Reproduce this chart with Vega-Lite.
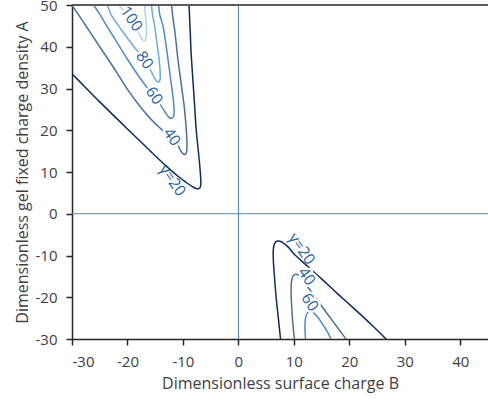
{
  "$schema": "https://vega.github.io/schema/vega-lite/v6.json",
  "width": 416,
  "height": 334,
  "autosize": {"type": "none"},
  "padding": {"left": 72, "top": 5, "right": 0, "bottom": 61},
  "background": "white",
  "config": {"view": {"stroke": null}, "font": "Open Sans"},
  "datasets": {
    "curves": [
      {"c":"L20","g":20,"i":0,"x":-30.5,"y":34.1},
      {"c":"L20","g":20,"i":1,"x":-30,"y":33.5},
      {"c":"L20","g":20,"i":2,"x":-25,"y":26.8},
      {"c":"L20","g":20,"i":3,"x":-20,"y":20.3},
      {"c":"L20","g":20,"i":4,"x":-15,"y":13.9},
      {"c":"L20","g":20,"i":5,"x":-13,"y":11.4},
      {"c":"L20","g":20,"i":6,"x":-11,"y":9.1},
      {"c":"L20","g":20,"i":7,"x":-9.5,"y":7.6},
      {"c":"L20","g":20,"i":8,"x":-8.3,"y":6.5},
      {"c":"L20","g":20,"i":9,"x":-7.5,"y":6.0},
      {"c":"L20","g":20,"i":10,"x":-7.0,"y":6.1},
      {"c":"L20","g":20,"i":11,"x":-6.8,"y":6.8},
      {"c":"L20","g":20,"i":12,"x":-6.8,"y":8.5},
      {"c":"L20","g":20,"i":13,"x":-7.0,"y":12},
      {"c":"L20","g":20,"i":14,"x":-7.3,"y":16},
      {"c":"L20","g":20,"i":15,"x":-7.6,"y":20},
      {"c":"L20","g":20,"i":16,"x":-7.9,"y":26},
      {"c":"L20","g":20,"i":17,"x":-8.2,"y":32},
      {"c":"L20","g":20,"i":18,"x":-8.5,"y":38},
      {"c":"L20","g":20,"i":19,"x":-8.7,"y":44},
      {"c":"L20","g":20,"i":20,"x":-8.9,"y":50},
      {"c":"L20","g":20,"i":21,"x":-8.95,"y":51},

      {"c":"L40","g":40,"i":0,"x":-30.6,"y":51},
      {"c":"L40","g":40,"i":1,"x":-30,"y":49.9},
      {"c":"L40","g":40,"i":2,"x":-28.9,"y":47.8},
      {"c":"L40","g":40,"i":3,"x":-27,"y":44},
      {"c":"L40","g":40,"i":4,"x":-25,"y":40},
      {"c":"L40","g":40,"i":5,"x":-22,"y":34},
      {"c":"L40","g":40,"i":6,"x":-19.9,"y":29.6},
      {"c":"L40","g":40,"i":7,"x":-17.9,"y":26},
      {"c":"L40","g":40,"i":8,"x":-15.5,"y":22.3},
      {"c":"L40","g":40,"i":9,"x":-13.5,"y":19.8},
      {"c":"L40","g":40,"i":10,"x":-12,"y":18.2},
      {"c":"L40","g":40,"i":11,"x":-11,"y":16.6},
      {"c":"L40","g":40,"i":12,"x":-10.4,"y":15.1},
      {"c":"L40","g":40,"i":13,"x":-9.9,"y":14.3},
      {"c":"L40","g":40,"i":14,"x":-9.5,"y":14.3},
      {"c":"L40","g":40,"i":15,"x":-9.3,"y":15.3},
      {"c":"L40","g":40,"i":16,"x":-9.3,"y":18},
      {"c":"L40","g":40,"i":17,"x":-9.5,"y":22},
      {"c":"L40","g":40,"i":18,"x":-9.8,"y":26},
      {"c":"L40","g":40,"i":19,"x":-10.3,"y":31},
      {"c":"L40","g":40,"i":20,"x":-10.9,"y":37},
      {"c":"L40","g":40,"i":21,"x":-11.4,"y":43},
      {"c":"L40","g":40,"i":22,"x":-11.9,"y":48},
      {"c":"L40","g":40,"i":23,"x":-12.1,"y":51},

      {"c":"L60","g":60,"i":0,"x":-26.6,"y":51},
      {"c":"L60","g":60,"i":1,"x":-26.1,"y":50},
      {"c":"L60","g":60,"i":2,"x":-25,"y":47.8},
      {"c":"L60","g":60,"i":3,"x":-23.5,"y":44.5},
      {"c":"L60","g":60,"i":4,"x":-22,"y":41.3},
      {"c":"L60","g":60,"i":5,"x":-20,"y":37},
      {"c":"L60","g":60,"i":6,"x":-18,"y":33},
      {"c":"L60","g":60,"i":7,"x":-16.5,"y":30.3},
      {"c":"L60","g":60,"i":8,"x":-15.2,"y":28.3},
      {"c":"L60","g":60,"i":9,"x":-14.1,"y":26.2},
      {"c":"L60","g":60,"i":10,"x":-13.2,"y":24.3},
      {"c":"L60","g":60,"i":11,"x":-12.6,"y":23.2},
      {"c":"L60","g":60,"i":12,"x":-12.1,"y":22.8},
      {"c":"L60","g":60,"i":13,"x":-11.7,"y":23.3},
      {"c":"L60","g":60,"i":14,"x":-11.6,"y":25},
      {"c":"L60","g":60,"i":15,"x":-11.8,"y":28},
      {"c":"L60","g":60,"i":16,"x":-12.3,"y":33},
      {"c":"L60","g":60,"i":17,"x":-12.9,"y":39},
      {"c":"L60","g":60,"i":18,"x":-13.6,"y":45},
      {"c":"L60","g":60,"i":19,"x":-14.2,"y":47.8},
      {"c":"L60","g":60,"i":20,"x":-14.4,"y":51},

      {"c":"L80","g":80,"i":0,"x":-24.1,"y":51},
      {"c":"L80","g":80,"i":1,"x":-23.6,"y":50},
      {"c":"L80","g":80,"i":2,"x":-23,"y":47.8},
      {"c":"L80","g":80,"i":3,"x":-21,"y":43.9},
      {"c":"L80","g":80,"i":4,"x":-19,"y":40.3},
      {"c":"L80","g":80,"i":5,"x":-16.9,"y":36.8},
      {"c":"L80","g":80,"i":6,"x":-15.8,"y":34.3},
      {"c":"L80","g":80,"i":7,"x":-15.1,"y":32.4},
      {"c":"L80","g":80,"i":8,"x":-14.6,"y":31.6},
      {"c":"L80","g":80,"i":9,"x":-14.2,"y":31.8},
      {"c":"L80","g":80,"i":10,"x":-14.1,"y":33.5},
      {"c":"L80","g":80,"i":11,"x":-14.3,"y":37},
      {"c":"L80","g":80,"i":12,"x":-14.7,"y":41},
      {"c":"L80","g":80,"i":13,"x":-15.1,"y":45},
      {"c":"L80","g":80,"i":14,"x":-15.5,"y":47.8},
      {"c":"L80","g":80,"i":15,"x":-15.7,"y":51},

      {"c":"L100","g":100,"i":0,"x":-21.8,"y":51},
      {"c":"L100","g":100,"i":1,"x":-21.3,"y":49.6},
      {"c":"L100","g":100,"i":2,"x":-20.4,"y":48.2},
      {"c":"L100","g":100,"i":3,"x":-19.3,"y":46.6},
      {"c":"L100","g":100,"i":4,"x":-18.4,"y":44.6},
      {"c":"L100","g":100,"i":5,"x":-17.7,"y":42.6},
      {"c":"L100","g":100,"i":6,"x":-17.2,"y":41.6},
      {"c":"L100","g":100,"i":7,"x":-16.8,"y":41.6},
      {"c":"L100","g":100,"i":8,"x":-16.6,"y":42.8},
      {"c":"L100","g":100,"i":9,"x":-16.6,"y":45.5},
      {"c":"L100","g":100,"i":10,"x":-16.8,"y":48},
      {"c":"L100","g":100,"i":11,"x":-16.9,"y":51},

      {"c":"R20","g":20,"i":0,"x":7.7,"y":-31},
      {"c":"R20","g":20,"i":1,"x":7.6,"y":-30},
      {"c":"R20","g":20,"i":2,"x":7.2,"y":-25},
      {"c":"R20","g":20,"i":3,"x":6.8,"y":-20},
      {"c":"R20","g":20,"i":4,"x":6.5,"y":-15},
      {"c":"R20","g":20,"i":5,"x":6.3,"y":-11},
      {"c":"R20","g":20,"i":6,"x":6.3,"y":-8.5},
      {"c":"R20","g":20,"i":7,"x":6.5,"y":-7.2},
      {"c":"R20","g":20,"i":8,"x":6.9,"y":-6.6},
      {"c":"R20","g":20,"i":9,"x":7.5,"y":-6.6},
      {"c":"R20","g":20,"i":10,"x":8.3,"y":-7.2},
      {"c":"R20","g":20,"i":11,"x":9,"y":-8.0},
      {"c":"R20","g":20,"i":12,"x":10,"y":-9.6},
      {"c":"R20","g":20,"i":13,"x":12.5,"y":-12.6},
      {"c":"R20","g":20,"i":14,"x":15,"y":-15.6},
      {"c":"R20","g":20,"i":15,"x":18,"y":-19.3},
      {"c":"R20","g":20,"i":16,"x":21,"y":-22.9},
      {"c":"R20","g":20,"i":17,"x":24,"y":-26.6},
      {"c":"R20","g":20,"i":18,"x":26.6,"y":-30},
      {"c":"R20","g":20,"i":19,"x":27.3,"y":-31},

      {"c":"R40","g":40,"i":0,"x":10.2,"y":-31},
      {"c":"R40","g":40,"i":1,"x":10.1,"y":-30},
      {"c":"R40","g":40,"i":2,"x":9.8,"y":-26},
      {"c":"R40","g":40,"i":3,"x":9.6,"y":-22},
      {"c":"R40","g":40,"i":4,"x":9.5,"y":-18.5},
      {"c":"R40","g":40,"i":5,"x":9.6,"y":-16},
      {"c":"R40","g":40,"i":6,"x":9.9,"y":-14.8},
      {"c":"R40","g":40,"i":7,"x":10.4,"y":-14.5},
      {"c":"R40","g":40,"i":8,"x":11.1,"y":-15.0},
      {"c":"R40","g":40,"i":9,"x":12,"y":-16.6},
      {"c":"R40","g":40,"i":10,"x":13.5,"y":-19.3},
      {"c":"R40","g":40,"i":11,"x":15,"y":-22.1},
      {"c":"R40","g":40,"i":12,"x":16.5,"y":-24.8},
      {"c":"R40","g":40,"i":13,"x":18,"y":-27.5},
      {"c":"R40","g":40,"i":14,"x":19.4,"y":-30},
      {"c":"R40","g":40,"i":15,"x":19.9,"y":-31},

      {"c":"R60","g":60,"i":0,"x":12.1,"y":-31},
      {"c":"R60","g":60,"i":1,"x":12.1,"y":-30},
      {"c":"R60","g":60,"i":2,"x":12.0,"y":-27.5},
      {"c":"R60","g":60,"i":3,"x":12.1,"y":-25},
      {"c":"R60","g":60,"i":4,"x":12.4,"y":-23.8},
      {"c":"R60","g":60,"i":5,"x":12.9,"y":-23.4},
      {"c":"R60","g":60,"i":6,"x":13.5,"y":-23.7},
      {"c":"R60","g":60,"i":7,"x":14.3,"y":-24.8},
      {"c":"R60","g":60,"i":8,"x":15.2,"y":-26.5},
      {"c":"R60","g":60,"i":9,"x":16.1,"y":-28.4},
      {"c":"R60","g":60,"i":10,"x":16.7,"y":-30},
      {"c":"R60","g":60,"i":11,"x":17.0,"y":-31}
    ],
    "labels": [
      {"t":"100","x":-19.3,"y":46.7},
      {"t":"80","x":-16.9,"y":36.8},
      {"t":"60","x":-15.2,"y":28.3},
      {"t":"40","x":-12.0,"y":18.4},
      {"t":"γ=20","x":-11.9,"y":8.0},
      {"t":"γ=20","x":11.4,"y":-8.4},
      {"t":"40","x":12.3,"y":-15.0},
      {"t":"60","x":12.9,"y":-21.2}
    ]
  },
  "layer": [
    {
      "data": {"values": [{}]},
      "mark": {"type": "rule", "color": "#5b87ad", "strokeWidth": 1},
      "encoding": {"y": {"datum": 0, "type": "quantitative"}}
    },
    {
      "data": {"values": [{}]},
      "mark": {"type": "rule", "color": "#3b80bd", "strokeWidth": 1},
      "encoding": {"x": {"datum": 0, "type": "quantitative"}}
    },
    {
      "data": {"name": "curves"},
      "mark": {"type": "line", "strokeWidth": 1.5, "clip": true, "interpolate": "catmull-rom"},
      "encoding": {
        "x": {
          "field": "x", "type": "quantitative",
          "scale": {"domain": [-30, 45], "nice": false, "zero": false},
          "axis": {
            "title": "Dimensionless surface charge B",
            "values": [-30,-25,-20,-15,-10,-5,0,5,10,15,20,25,30,35,40],
            "labelExpr": "datum.value % 10 === 0 ? '' + datum.value : ''",
            "tickSize": {"condition": {"test": "datum.value % 10 === 0", "value": 6}, "value": 3},
            "grid": false,
            "domainColor": "#262626", "domainWidth": 1.5,
            "tickColor": "#262626", "tickWidth": 1.5,
            "labelFont": "Open Sans", "labelFontSize": 15, "labelColor": "#404040", "labelPadding": 9,
            "titleFont": "Open Sans", "titleFontSize": 16, "titleFontWeight": "normal", "titleColor": "#404040", "titlePadding": 6
          }
        },
        "y": {
          "field": "y", "type": "quantitative",
          "scale": {"domain": [-30, 50], "nice": false, "zero": false},
          "axis": {
            "title": "Dimensionless gel fixed charge density A",
            "values": [-30,-25,-20,-15,-10,-5,0,5,10,15,20,25,30,35,40,45,50],
            "labelExpr": "datum.value % 10 === 0 ? '' + datum.value : ''",
            "tickSize": {"condition": {"test": "datum.value % 10 === 0", "value": 6}, "value": 3},
            "grid": false,
            "domainColor": "#262626", "domainWidth": 1.5,
            "tickColor": "#262626", "tickWidth": 1.5,
            "labelFont": "Open Sans", "labelFontSize": 15, "labelColor": "#404040", "labelPadding": 9,
            "titleFont": "Open Sans", "titleFontSize": 16, "titleFontWeight": "normal", "titleColor": "#404040", "titlePadding": 5
          }
        },
        "color": {
          "field": "g", "type": "ordinal",
          "scale": {"domain": [20, 40, 60, 80, 100], "range": ["#0c2d5c", "#4b6f9c", "#4e8ac3", "#70aad9", "#b3d0e8"]},
          "legend": null
        },
        "detail": {"field": "c"},
        "order": {"field": "i", "type": "quantitative"}
      }
    },
    {
      "data": {"name": "labels"},
      "transform": [{"filter": "datum.t !== 'γ=20'"}],
      "mark": {"type": "text", "font": "Open Sans", "fontSize": 15.5, "align": "center", "baseline": "middle", "fill": "white", "stroke": "white", "strokeWidth": 5, "strokeJoin": "round"},
      "encoding": {
        "x": {"field": "x", "type": "quantitative"},
        "y": {"field": "y", "type": "quantitative"},
        "text": {"field": "t"},
        "angle": {"field": "t", "type": "ordinal", "scale": {"domain": ["100", "80", "60", "40", "γ=20"], "range": [55, 55, 50, 46, 40]}, "legend": null}
      }
    },
    {
      "data": {"name": "labels"},
      "mark": {"type": "text", "font": "Open Sans", "fontSize": 15.5, "align": "center", "baseline": "middle", "color": "#1d5fa6"},
      "encoding": {
        "x": {"field": "x", "type": "quantitative"},
        "y": {"field": "y", "type": "quantitative"},
        "text": {"field": "t"},
        "angle": {"field": "t", "type": "ordinal", "scale": {"domain": ["100", "80", "60", "40", "γ=20"], "range": [55, 55, 50, 46, 40]}, "legend": null}
      }
    },
    {
      "data": {"values": [{}]},
      "mark": {"type": "rule", "color": "#5a5a5a", "strokeWidth": 2},
      "encoding": {"y": {"datum": 50, "type": "quantitative"}}
    }
  ]
}
